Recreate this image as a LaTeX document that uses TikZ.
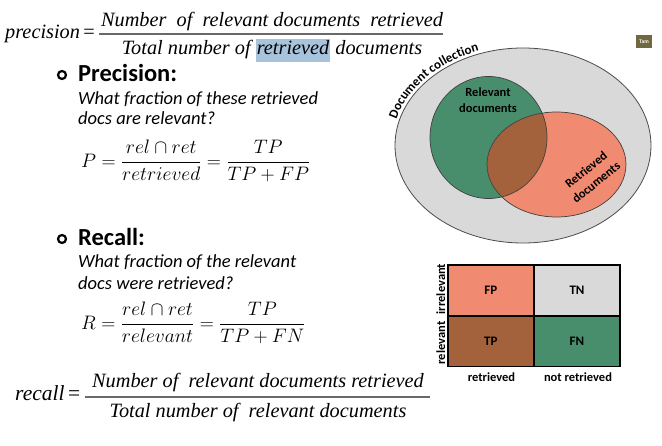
\RequirePackage{fix-cm}
\documentclass[tikz,border=0pt]{standalone}
\usepackage{amsmath}
\usepackage{fontspec}
\setmainfont{Liberation Serif}
\newfontfamily\sansC{Carlito}
\usetikzlibrary{decorations.text}

\definecolor{greyfill}{RGB}{217,217,217}
\definecolor{relgreen}{RGB}{72,142,108}
\definecolor{retsalmon}{RGB}{240,138,112}
\definecolor{bothbrown}{RGB}{163,98,60}
\definecolor{hlblue}{RGB}{168,195,220}
\definecolor{barGrey}{RGB}{105,105,105}
\definecolor{iconolive}{RGB}{112,104,62}

\newcommand\hlword[1]{{\setlength{\fboxsep}{1pt}\colorbox{hlblue}{\rule[-6pt]{0pt}{21pt}#1}}}

\begin{document}
\begin{tikzpicture}[x=1pt,y=1pt,
  bigf/.style={font=\fontsize{20.3}{24}\selectfont\itshape, inner sep=0pt, anchor=base},
  fracbar/.style={draw=barGrey, line width=1.4pt},
  heading/.style={font=\sansC\bfseries\fontsize{24.5}{28}\selectfont, inner sep=0pt, anchor=base west},
  question/.style={font=\sansC\itshape\fontsize{18.5}{22}\selectfont, inner sep=0pt, anchor=base west},
  bulletring/.style={circle, draw=black, line width=2.2pt, minimum size=8pt, inner sep=0pt},
  mathf/.style={font=\fontsize{19.5}{23}\selectfont, inner sep=0pt, anchor=west},
  vlabel/.style={font=\sansC\bfseries\fontsize{12.5}{16}\selectfont, align=center, inner sep=0pt},
  cell/.style={draw=black, line width=1.8pt, minimum width=86.2pt, minimum height=50.8pt,
    inner sep=0pt, font=\sansC\bfseries\fontsize{13}{15}\selectfont},
  axislabel/.style={font=\sansC\bfseries\fontsize{12.5}{14}\selectfont, inner sep=0pt},
  venn/.style={draw=black!75, line width=0.7pt}
]
\useasboundingbox (0,0) rectangle (662,-446);
\fill[white] (0,0) rectangle (662,-446);

% ---------- precision definition ----------
\node[bigf, anchor=base west] (precLbl) at (5,-39) {precision\,{\upshape =}};
\node[bigf] (precNum) at (272,-27) {Number\ \ of\ \ relevant documents\ \ retrieved};
\node[bigf] (precDen) at (272,-55) {Total number of \hlword{retrieved} documents};
\coordinate (precBarL) at (99,-34);
\coordinate (precBarR) at (443,-34);
\draw[fracbar] (precBarL) -- (precBarR);

% ---------- Precision block ----------
\node[bulletring] (bulP) at (62,-75) {};
\node[heading] (headP) at (78,-82) {Precision:};
\node[question] (qP1) at (78,-105) {What fraction of these retrieved};
\node[question] (qP2) at (78,-125) {docs are relevant?};
\node[mathf] (eqP) at (81,-161) {$P = \dfrac{rel\cap ret}{retrieved} = \dfrac{TP}{TP+FP}$};

% ---------- Recall block ----------
\node[bulletring] (bulR) at (62,-239) {};
\node[heading] (headR) at (78,-246) {Recall:};
\node[question] (qR1) at (78,-268) {What fraction of the relevant};
\node[question] (qR2) at (78,-290) {docs were retrieved?};
\node[mathf] (eqR) at (81,-323) {$R = \dfrac{rel\cap ret}{relevant} = \dfrac{TP}{TP+FN}$};

% ---------- recall definition ----------
\node[bigf, anchor=base west, font=\fontsize{21.5}{24}\selectfont\itshape] (recLbl) at (15,-401) {recall\,{\upshape =}};
\node[bigf] (recNum) at (258,-388) {Number of\ \ relevant documents retrieved};
\node[bigf] (recDen) at (258,-418) {Total number of\ \ relevant documents};
\coordinate (recBarL) at (85,-397);
\coordinate (recBarR) at (430,-397);
\draw[fracbar] (recBarL) -- (recBarR);

% ---------- Venn diagram ----------
\fill[greyfill] (523,-145.5) ellipse [x radius=128, y radius=97.5];
\draw[draw=black!70, line width=0.8pt] (523,-145.5) ellipse [x radius=128, y radius=97.5];
\fill[relgreen] (488.5,-137.5) ellipse [x radius=58.5, y radius=61];
\fill[retsalmon] (556.5,-164.5) ellipse [x radius=69.5, y radius=52.5];
\begin{scope}
  \clip (488.5,-137.5) ellipse [x radius=58.5, y radius=61];
  \fill[bothbrown] (556.5,-164.5) ellipse [x radius=69.5, y radius=52.5];
\end{scope}
\draw[venn] (488.5,-137.5) ellipse [x radius=58.5, y radius=61];
\draw[venn] (556.5,-164.5) ellipse [x radius=69.5, y radius=52.5];

\node[vlabel] (relLbl) at (488,-100) {Relevant\\documents};
\node[vlabel, rotate=39] (retLbl) at (591,-176) {Retrieved\\documents};

\path[decorate, decoration={text along path, text align=left,
    text={|\sansC\bfseries\fontsize{13}{15}\selectfont|Document collection}}]
  (523,-145.5) ++(165:131 and 100.5) arc[start angle=165, end angle=70, x radius=131, y radius=100.5];

% ---------- contingency table ----------
\node[cell, fill=retsalmon] (FP) at (490.8,-290.4) {FP};
\node[cell, fill=greyfill] (TN) at (577.0,-290.4) {TN};
\node[cell, fill=bothbrown] (TP) at (490.8,-341.2) {TP};
\node[cell, fill=relgreen] (FN) at (577.0,-341.2) {FN};
\node[axislabel, rotate=90] (rowIrr) at (440.7,-289) {irrelevant};
\node[axislabel, rotate=90] (rowRel) at (440.7,-343) {relevant};
\node[axislabel, anchor=base] (colRet) at (491.5,-382) {retrieved};
\node[axislabel, anchor=base] (colNot) at (578,-382) {not retrieved};

% ---------- small thumbnail ----------
\node[fill=iconolive, minimum width=16pt, minimum height=13pt, inner sep=0pt,
  font=\sansC\bfseries\fontsize{5.5}{6}\selectfont, text=white] (thumb) at (644,-42) {Tam};
\end{tikzpicture}
\end{document}
